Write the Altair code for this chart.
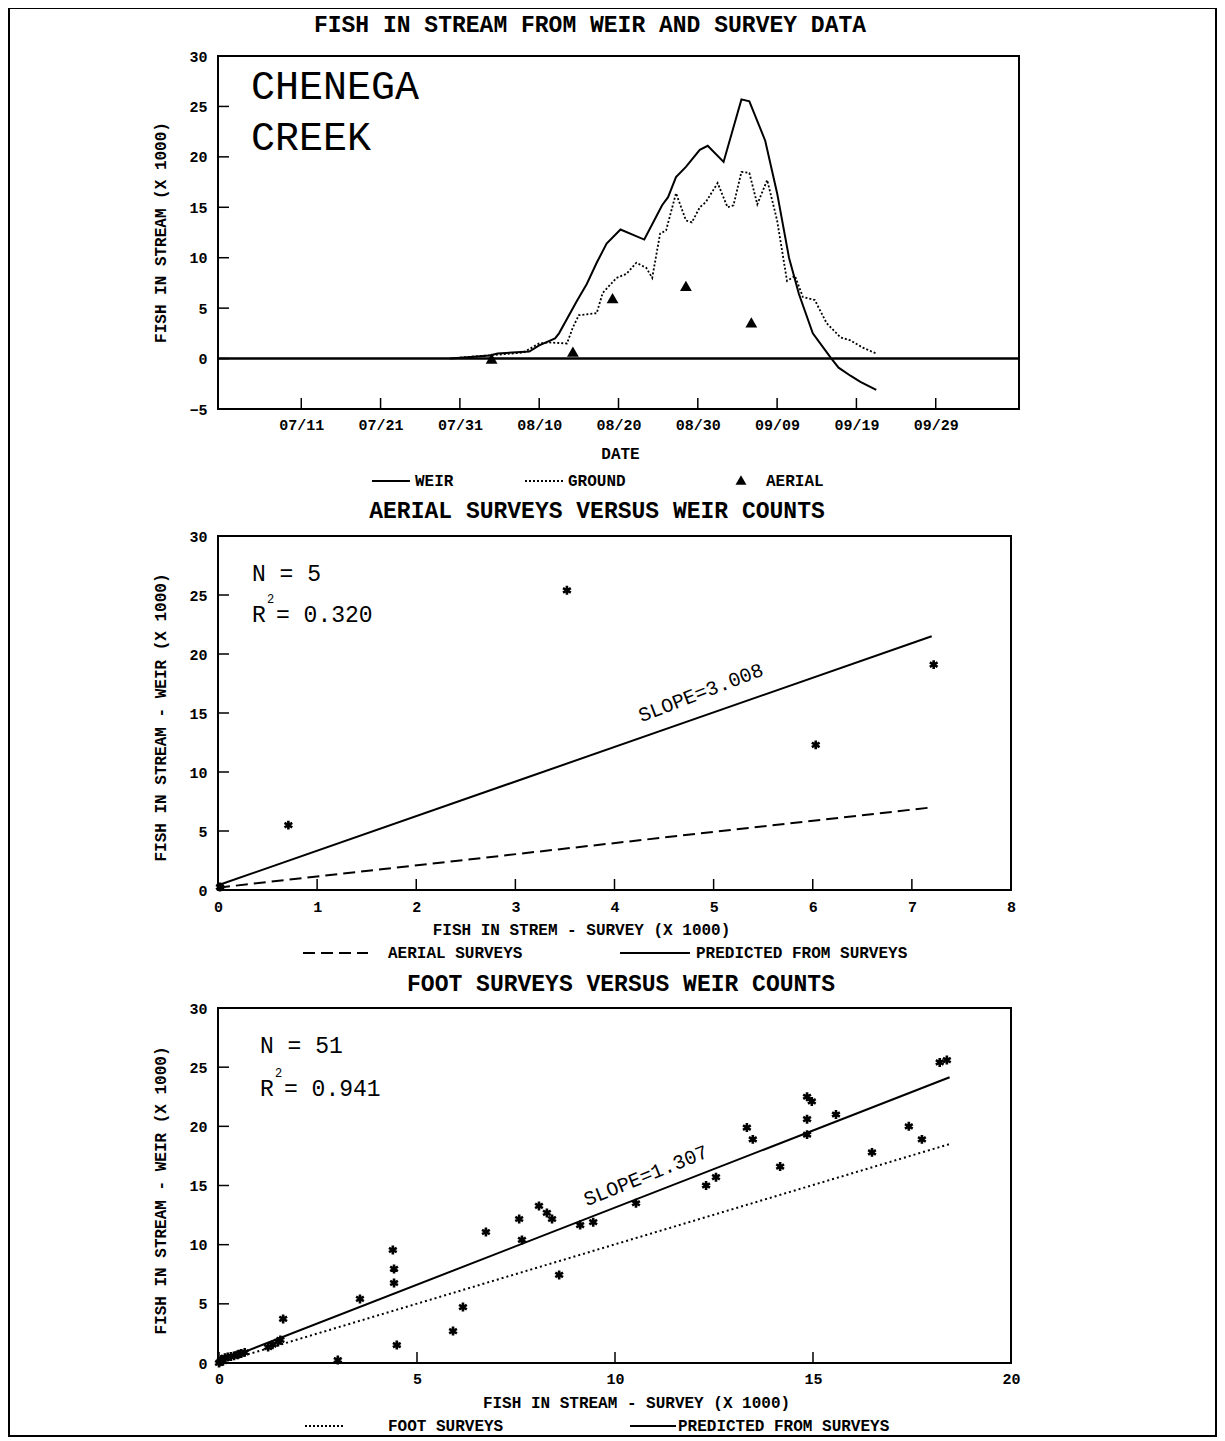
import altair as alt
import pandas as pd

FONT = "Liberation Mono"

# ---------------- data ----------------
# top panel: fish in stream by date
weir_dates = ["07-29 18", "07-31 12", "08-03 18", "08-04 18", "08-08 18", "08-10 00", "08-12 00",
              "08-12 12", "08-14 18", "08-16 00", "08-17 06", "08-18 12", "08-20 06", "08-23 06",
              "08-25 12", "08-26 06", "08-27 06", "08-28 12", "08-30 06", "08-31 06", "09-02 06",
              "09-04 12", "09-05 12", "09-07 12", "09-09 00", "09-10 12", "09-11 18", "09-13 12",
              "09-15 18", "09-16 18", "09-18 06", "09-19 12", "09-21 12"]
weir_vals = [0.0, 0.1, 0.3, 0.5, 0.7, 1.3, 2.0,
             2.5, 5.7, 7.4, 9.5, 11.4, 12.8, 11.8,
             15.2, 16.0, 18.0, 19.0, 20.7, 21.1, 19.5,
             25.7, 25.5, 21.6, 16.4, 10.0, 6.4, 2.5,
             0.1, -0.9, -1.7, -2.3, -3.1]

ground_dates = ["07-31 00", "08-05 00", "08-08 00", "08-10 00", "08-11 06", "08-13 12", "08-14 06",
                "08-15 00", "08-17 06", "08-18 00", "08-19 18", "08-21 00", "08-22 06", "08-23 12",
                "08-24 06", "08-25 06", "08-26 00", "08-27 06", "08-28 12", "08-29 06", "08-30 06",
                "08-31 00", "09-01 12", "09-02 18", "09-03 12", "09-04 12", "09-05 12", "09-06 12",
                "09-07 18", "09-09 00", "09-10 06", "09-11 06", "09-12 06", "09-13 18", "09-15 06",
                "09-17 00", "09-18 06", "09-19 18", "09-21 12"]
ground_vals = [0.1, 0.4, 0.6, 1.5, 1.6, 1.5, 3.1,
               4.3, 4.5, 6.5, 8.0, 8.4, 9.5, 9.0,
               8.0, 12.4, 12.7, 16.4, 13.7, 13.5, 15.0,
               15.5, 17.4, 15.0, 15.2, 18.5, 18.4, 15.3,
               17.7, 13.7, 7.7, 8.2, 6.1, 5.8, 3.5,
               2.1, 1.8, 1.1, 0.5]

aerial_dates = ["08-04 00", "08-14 06", "08-19 06", "08-28 12", "09-05 18"]
aerial_vals = [0.0, 0.7, 6.0, 7.2, 3.6]

date_ticks = ["07-11", "07-21", "07-31", "08-10", "08-20", "08-30", "09-09", "09-19", "09-29"]
y1_ticks = [-5, 0, 5, 10, 15, 20, 25, 30]

# middle panel: aerial surveys versus weir
aer_survey = [0.02, 0.71, 3.52, 6.03, 7.22]
aer_weir = [0.25, 5.5, 25.4, 12.3, 19.1]
aer_pred_x = [0.0, 7.2]
aer_pred_y = [0.4, 21.5]
aer_line_x = [0.0, 7.2]
aer_line_y = [0.2, 7.0]
x2_ticks = [0, 1, 2, 3, 4, 5, 6, 7, 8]

# bottom panel: foot surveys versus weir
foot_survey = [0.0, 0.03, 0.06, 0.08, 0.1, 0.15, 0.22, 0.3, 0.38, 0.47, 0.5, 0.56, 0.65,
               1.24, 1.35, 1.49, 1.55, 1.62, 3.0, 3.56, 4.39, 4.42, 4.42, 4.49,
               5.91, 6.16, 6.74, 7.58, 7.65, 8.08, 8.28, 8.41, 8.59, 9.12, 9.45,
               10.53, 12.3, 12.55, 13.33, 13.48, 14.17, 14.85, 14.97, 14.85, 14.85,
               15.58, 16.49, 17.42, 17.75, 18.2, 18.38]
foot_weir = [0.0, 0.1, 0.3, 0.2, 0.15, 0.45, 0.5, 0.55, 0.6, 0.7, 0.75, 0.8, 0.9,
             1.35, 1.55, 1.78, 1.95, 3.72, 0.25, 5.41, 9.55, 7.95, 6.76, 1.52,
             2.7, 4.73, 11.07, 12.17, 10.4, 13.27, 12.68, 12.17, 7.44, 11.66, 11.9,
             13.5, 15.0, 15.7, 19.9, 18.9, 16.6, 22.5, 22.1, 20.6, 19.3,
             21.0, 17.8, 20.0, 18.9, 25.4, 25.6]
foot_pred_x = [0.0, 18.45]
foot_pred_y = [0.1, 24.15]
foot_line_x = [0.0, 18.45]
foot_line_y = [0.0, 18.5]
x3_ticks = [0, 5, 10, 15, 20]
y_ticks = [0, 5, 10, 15, 20, 25, 30]

texts = {
    "main": "FISH IN STREAM FROM WEIR AND SURVEY DATA",
    "t2": "AERIAL SURVEYS VERSUS WEIR COUNTS",
    "t3": "FOOT SURVEYS VERSUS WEIR COUNTS",
    "y1": "FISH IN STREAM (X 1000)",
    "y23": "FISH IN STREAM - WEIR (X 1000)",
    "x1": "DATE",
    "x2": "FISH IN STREM - SURVEY (X 1000)",
    "x3": "FISH IN STREAM - SURVEY (X 1000)",
    "n2": "N = 5", "r2": "= 0.320", "s2": "SLOPE=3.008",
    "n3": "N = 51", "r3": "= 0.941", "s3": "SLOPE=1.307",
}

# ---------------- geometry (pixels, relative to the top plot's corner) ----------------
W1, W2 = 801, 793
H = 1307
P1B, P2T, P2B, P3T = 353, 480, 834, 952
TICK = 11


def iso(s):
    return f"1990-{s[:5]}T{s[6:8]}:00:00Z"


def dt(s):
    return alt.DateTime(year=1990, month=int(s[:2]), date=int(s[3:5]), utc=True)


ONE = pd.DataFrame({"k": [0]})


def base_axis(**kw):
    d = dict(domain=False, grid=False, ticks=False, tickSize=0, labelFont=FONT, labelFontSize=15,
             labelFontWeight="bold", labelColor="black", titleFont=FONT, titleFontSize=16,
             titleFontWeight="bold", titleColor="black", labelOverlap=False, labelFlush=False,
             titleAlign="center", titleBaseline="middle")
    d.update(kw)
    return alt.Axis(**d)


def xaxis(values, offset, title, tx, ty, pad, fmt=None):
    kw = dict(orient="bottom", values=values, offset=offset, title=title, titleX=tx, titleY=ty,
              titleAngle=0, labelPadding=pad)
    if fmt:
        kw["format"] = fmt
    return base_axis(**kw)


def yaxis(values, title, ty):
    return base_axis(orient="left", values=values, title=title, titleX=-58, titleY=ty,
                     titleAngle=270, labelPadding=11)


def label(s, x, y, size, weight="normal", align="left", angle=0):
    mk = dict(font=FONT, fontSize=size, fontWeight=weight, align=align, baseline="middle", color="black")
    if angle:
        mk["angle"] = angle
    return alt.Chart(pd.DataFrame({"t": [s]})).mark_text(**mk).encode(
        text="t:N", x=alt.value(x), y=alt.value(y))


def seg(x1, x2, y, dash=None, width=2):
    mk = dict(color="black", strokeWidth=width)
    if dash:
        mk["strokeDash"] = dash
    return alt.Chart(ONE).mark_rule(**mk).encode(x=alt.value(x1), x2=alt.value(x2), y=alt.value(y))


def frame(x1, x2, y1, y2, width=2):
    return alt.Chart(ONE).mark_rect(fillOpacity=0, stroke="black", strokeWidth=width).encode(
        x=alt.value(x1), x2=alt.value(x2), y=alt.value(y1), y2=alt.value(y2))


# ---------------- scales and axes ----------------
X1 = alt.Scale(type="utc", domain=[alt.DateTime(year=1990, month=6, date=30, hours=12, utc=True),
                                   alt.DateTime(year=1990, month=10, date=9, hours=12, utc=True)],
               range=[0, W1])
Y1 = alt.Scale(domain=[-5, 30], range=[P1B, 0], nice=False, zero=False)
X2 = alt.Scale(domain=[0, 8], range=[0, W2], nice=False)
Y2 = alt.Scale(domain=[0, 30], range=[P2B, P2T], nice=False)
X3 = alt.Scale(domain=[0, 20], range=[1, W2], nice=False)
Y3 = alt.Scale(domain=[0, 30], range=[H, P3T], nice=False)

AX1 = xaxis([dt(s) for s in date_ticks], -(H - P1B), texts["x1"], 402, 44, 8, "%m/%d")
AY1 = yaxis(y1_ticks, texts["y1"], 176)
AX2 = xaxis(x2_ticks, -(H - P2B), texts["x2"], 363, 39, 9)
AY2 = yaxis(y_ticks, texts["y23"], 661)
AX3 = xaxis(x3_ticks, 0, texts["x3"], 418, 39, 8)
AY3 = yaxis(y_ticks, texts["y23"], 1134)


def ex1():
    return alt.X("date:T", scale=X1, axis=AX1)


def ey1():
    return alt.Y("v:Q", scale=Y1, axis=AY1)


# ---------------- top panel ----------------
df_w = pd.DataFrame({"date": [iso(s) for s in weir_dates], "v": weir_vals})
df_g = pd.DataFrame({"date": [iso(s) for s in ground_dates], "v": ground_vals})
df_a = pd.DataFrame({"date": [iso(s) for s in aerial_dates], "v": aerial_vals})
df_dt = pd.DataFrame({"date": [iso(s + " 00") for s in date_ticks]})
df_y1 = pd.DataFrame({"v": y1_ticks})

p1 = alt.layer(
    alt.Chart(df_w).mark_line(color="black", strokeWidth=2).encode(x=ex1(), y=ey1()),
    alt.Chart(df_g).mark_line(color="black", strokeWidth=1.8, strokeDash=[2, 2]).encode(x=ex1(), y=ey1()),
    alt.Chart(df_a).mark_point(shape="triangle-up", filled=True, size=140, color="black", opacity=1).encode(
        x=ex1(), y=ey1()),
    alt.Chart(pd.DataFrame({"v": [0]})).mark_rule(color="black", strokeWidth=2.5).encode(
        y=ey1(), x=alt.value(0), x2=alt.value(W1)),
    alt.Chart(df_dt).mark_rule(color="black", strokeWidth=1.5).encode(
        x=ex1(), y=alt.value(P1B), y2=alt.value(P1B - TICK)),
    alt.Chart(df_y1).mark_rule(color="black", strokeWidth=1.5).encode(
        y=ey1(), x=alt.value(0), x2=alt.value(TICK)),
    frame(0, W1, 0, P1B),
    frame(-209, 998, -48, 1380),
    label(texts["main"], 372, -31, 23, "bold", "center"),
    label("CHENEGA", 33, 31, 40),
    label("CREEK", 33, 82, 40),
    seg(154, 192, 425),
    label("WEIR", 197, 425, 16, "bold"),
    seg(307, 347, 425, dash=[2, 2], width=1.8),
    label("GROUND", 350, 425, 16, "bold"),
    alt.Chart(ONE).mark_point(shape="triangle-up", filled=True, size=120, color="black", opacity=1).encode(
        x=alt.value(523), y=alt.value(424)),
    label("AERIAL", 548, 425, 16, "bold"),
)

# ---------------- middle panel ----------------
ASTER = "M0,-1L0,1M-0.87,-0.5L0.87,0.5M-0.87,0.5L0.87,-0.5"


def ex2():
    return alt.X("x:Q", scale=X2, axis=AX2)


def ey2():
    return alt.Y("y:Q", scale=Y2, axis=AY2)


p2 = alt.layer(
    alt.Chart(pd.DataFrame({"x": aer_line_x, "y": aer_line_y})).mark_line(
        color="black", strokeWidth=2, strokeDash=[12, 6]).encode(x=ex2(), y=ey2()),
    alt.Chart(pd.DataFrame({"x": aer_pred_x, "y": aer_pred_y})).mark_line(
        color="black", strokeWidth=2).encode(x=ex2(), y=ey2()),
    alt.Chart(pd.DataFrame({"x": aer_survey, "y": aer_weir})).mark_point(
        shape=ASTER, filled=False, size=80, strokeWidth=2.6, color="black", opacity=1).encode(x=ex2(), y=ey2()),
    alt.Chart(pd.DataFrame({"x": x2_ticks})).mark_rule(color="black", strokeWidth=1.5).encode(
        x=ex2(), y=alt.value(P2B), y2=alt.value(P2B - TICK)),
    alt.Chart(pd.DataFrame({"y": y_ticks})).mark_rule(color="black", strokeWidth=1.5).encode(
        y=ey2(), x=alt.value(0), x2=alt.value(TICK)),
    frame(0, W2, P2T, P2B),
    label(texts["t2"], 379, 455, 23, "bold", "center"),
    label(texts["n2"], 34, 518, 23),
    label("R", 34, 559, 23),
    label("2", 49, 543, 12),
    label(texts["r2"], 58, 559, 23),
    label(texts["s2"], 483, 637, 20, "normal", "center", 339),
    seg(85, 150, 897, dash=[12, 6]),
    label("AERIAL SURVEYS", 170, 897, 16, "bold"),
    seg(402, 472, 897),
    label("PREDICTED FROM SURVEYS", 478, 897, 16, "bold"),
)

# ---------------- bottom panel ----------------


def ex3():
    return alt.X("x:Q", scale=X3, axis=AX3)


def ey3():
    return alt.Y("y:Q", scale=Y3, axis=AY3)


p3 = alt.layer(
    alt.Chart(pd.DataFrame({"x": foot_line_x, "y": foot_line_y})).mark_line(
        color="black", strokeWidth=2, strokeDash=[2, 3]).encode(x=ex3(), y=ey3()),
    alt.Chart(pd.DataFrame({"x": foot_pred_x, "y": foot_pred_y})).mark_line(
        color="black", strokeWidth=2).encode(x=ex3(), y=ey3()),
    alt.Chart(pd.DataFrame({"x": foot_survey, "y": foot_weir})).mark_point(
        shape=ASTER, filled=False, size=80, strokeWidth=2.6, color="black", opacity=1).encode(x=ex3(), y=ey3()),
    alt.Chart(pd.DataFrame({"x": x3_ticks})).mark_rule(color="black", strokeWidth=1.5).encode(
        x=ex3(), y=alt.value(H), y2=alt.value(H - TICK)),
    alt.Chart(pd.DataFrame({"y": y_ticks})).mark_rule(color="black", strokeWidth=1.5).encode(
        y=ey3(), x=alt.value(0), x2=alt.value(TICK)),
    frame(0, W2, P3T, H),
    label(texts["t3"], 403, 928, 23, "bold", "center"),
    label(texts["n3"], 42, 990, 23),
    label("R", 42, 1033, 23),
    label("2", 57, 1017, 12),
    label(texts["r3"], 66, 1033, 23),
    label(texts["s3"], 428, 1120, 20, "normal", "center", 338),
    seg(87, 127, 1370, dash=[2, 2]),
    label("FOOT SURVEYS", 170, 1370, 16, "bold"),
    seg(412, 458, 1370),
    label("PREDICTED FROM SURVEYS", 460, 1370, 16, "bold"),
)

chart = alt.layer(p1, p2, p3).resolve_scale(x="independent", y="independent").properties(
    width=W1, height=H,
    autosize=alt.AutoSizeParams(type="none"),
    padding={"left": 210, "top": 48, "right": 198, "bottom": 75},
).configure_view(stroke="transparent")

chart.save("out.html", embed_options={"renderer": "svg", "actions": False})
